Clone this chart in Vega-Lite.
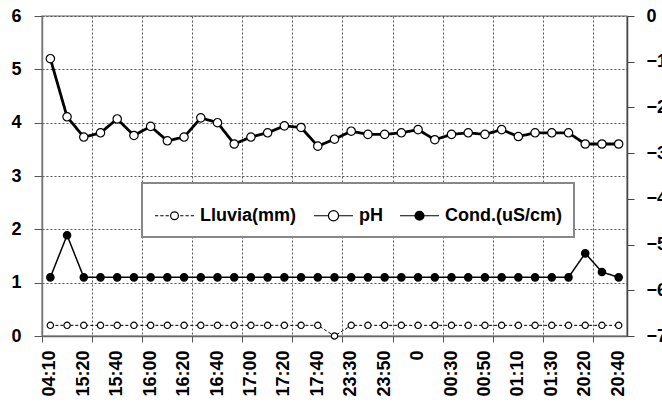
{
  "$schema": "https://vega.github.io/schema/vega-lite/v6.json",
  "width": 585,
  "height": 320,
  "autosize": {"type": "none"},
  "padding": {"left": 42, "top": 16, "right": 35, "bottom": 68},
  "background": "white",
  "config": {
    "font": "Liberation Sans",
    "view": {"stroke": "#999", "strokeWidth": 1.5},
    "axis": {"labelFont": "Liberation Sans", "labelFontSize": 18, "labelFontWeight": "bold", "labelColor": "black", "title": null},
    "legend": {"strokeWidth": 2}
  },
  "data": {"values": [
    {"t":"04:10","s":"Lluvia(mm)","v":0.2},{"t":"15:10","s":"Lluvia(mm)","v":0.2},{"t":"15:20","s":"Lluvia(mm)","v":0.2},{"t":"15:30","s":"Lluvia(mm)","v":0.2},{"t":"15:40","s":"Lluvia(mm)","v":0.2},{"t":"15:50","s":"Lluvia(mm)","v":0.2},{"t":"16:00","s":"Lluvia(mm)","v":0.2},{"t":"16:10","s":"Lluvia(mm)","v":0.2},{"t":"16:20","s":"Lluvia(mm)","v":0.2},{"t":"16:30","s":"Lluvia(mm)","v":0.2},{"t":"16:40","s":"Lluvia(mm)","v":0.2},{"t":"16:50","s":"Lluvia(mm)","v":0.2},{"t":"17:00","s":"Lluvia(mm)","v":0.2},{"t":"17:10","s":"Lluvia(mm)","v":0.2},{"t":"17:20","s":"Lluvia(mm)","v":0.2},{"t":"17:30","s":"Lluvia(mm)","v":0.2},{"t":"17:40","s":"Lluvia(mm)","v":0.2},{"t":"17:50","s":"Lluvia(mm)","v":0},{"t":"23:30","s":"Lluvia(mm)","v":0.2},{"t":"23:40","s":"Lluvia(mm)","v":0.2},{"t":"23:50","s":"Lluvia(mm)","v":0.2},{"t":"23:55","s":"Lluvia(mm)","v":0.2},{"t":"0","s":"Lluvia(mm)","v":0.2},{"t":"00:20","s":"Lluvia(mm)","v":0.2},{"t":"00:30","s":"Lluvia(mm)","v":0.2},{"t":"00:40","s":"Lluvia(mm)","v":0.2},{"t":"00:50","s":"Lluvia(mm)","v":0.2},{"t":"01:00","s":"Lluvia(mm)","v":0.2},{"t":"01:10","s":"Lluvia(mm)","v":0.2},{"t":"01:20","s":"Lluvia(mm)","v":0.2},{"t":"01:30","s":"Lluvia(mm)","v":0.2},{"t":"01:40","s":"Lluvia(mm)","v":0.2},{"t":"20:20","s":"Lluvia(mm)","v":0.2},{"t":"20:30","s":"Lluvia(mm)","v":0.2},{"t":"20:40","s":"Lluvia(mm)","v":0.2},
    {"t":"04:10","s":"pH","v":5.2},{"t":"15:10","s":"pH","v":4.11},{"t":"15:20","s":"pH","v":3.73},{"t":"15:30","s":"pH","v":3.81},{"t":"15:40","s":"pH","v":4.07},{"t":"15:50","s":"pH","v":3.76},{"t":"16:00","s":"pH","v":3.93},{"t":"16:10","s":"pH","v":3.66},{"t":"16:20","s":"pH","v":3.73},{"t":"16:30","s":"pH","v":4.09},{"t":"16:40","s":"pH","v":4.0},{"t":"16:50","s":"pH","v":3.6},{"t":"17:00","s":"pH","v":3.73},{"t":"17:10","s":"pH","v":3.81},{"t":"17:20","s":"pH","v":3.94},{"t":"17:30","s":"pH","v":3.91},{"t":"17:40","s":"pH","v":3.56},{"t":"17:50","s":"pH","v":3.69},{"t":"23:30","s":"pH","v":3.84},{"t":"23:40","s":"pH","v":3.78},{"t":"23:50","s":"pH","v":3.78},{"t":"23:55","s":"pH","v":3.81},{"t":"0","s":"pH","v":3.87},{"t":"00:20","s":"pH","v":3.68},{"t":"00:30","s":"pH","v":3.78},{"t":"00:40","s":"pH","v":3.81},{"t":"00:50","s":"pH","v":3.78},{"t":"01:00","s":"pH","v":3.87},{"t":"01:10","s":"pH","v":3.74},{"t":"01:20","s":"pH","v":3.81},{"t":"01:30","s":"pH","v":3.81},{"t":"01:40","s":"pH","v":3.81},{"t":"20:20","s":"pH","v":3.6},{"t":"20:30","s":"pH","v":3.6},{"t":"20:40","s":"pH","v":3.6},
    {"t":"04:10","s":"Cond.(uS/cm)","v":1.1},{"t":"15:10","s":"Cond.(uS/cm)","v":1.89},{"t":"15:20","s":"Cond.(uS/cm)","v":1.1},{"t":"15:30","s":"Cond.(uS/cm)","v":1.1},{"t":"15:40","s":"Cond.(uS/cm)","v":1.1},{"t":"15:50","s":"Cond.(uS/cm)","v":1.1},{"t":"16:00","s":"Cond.(uS/cm)","v":1.1},{"t":"16:10","s":"Cond.(uS/cm)","v":1.1},{"t":"16:20","s":"Cond.(uS/cm)","v":1.1},{"t":"16:30","s":"Cond.(uS/cm)","v":1.1},{"t":"16:40","s":"Cond.(uS/cm)","v":1.1},{"t":"16:50","s":"Cond.(uS/cm)","v":1.1},{"t":"17:00","s":"Cond.(uS/cm)","v":1.1},{"t":"17:10","s":"Cond.(uS/cm)","v":1.1},{"t":"17:20","s":"Cond.(uS/cm)","v":1.1},{"t":"17:30","s":"Cond.(uS/cm)","v":1.1},{"t":"17:40","s":"Cond.(uS/cm)","v":1.1},{"t":"17:50","s":"Cond.(uS/cm)","v":1.1},{"t":"23:30","s":"Cond.(uS/cm)","v":1.1},{"t":"23:40","s":"Cond.(uS/cm)","v":1.1},{"t":"23:50","s":"Cond.(uS/cm)","v":1.1},{"t":"23:55","s":"Cond.(uS/cm)","v":1.1},{"t":"0","s":"Cond.(uS/cm)","v":1.1},{"t":"00:20","s":"Cond.(uS/cm)","v":1.1},{"t":"00:30","s":"Cond.(uS/cm)","v":1.1},{"t":"00:40","s":"Cond.(uS/cm)","v":1.1},{"t":"00:50","s":"Cond.(uS/cm)","v":1.1},{"t":"01:00","s":"Cond.(uS/cm)","v":1.1},{"t":"01:10","s":"Cond.(uS/cm)","v":1.1},{"t":"01:20","s":"Cond.(uS/cm)","v":1.1},{"t":"01:30","s":"Cond.(uS/cm)","v":1.1},{"t":"01:40","s":"Cond.(uS/cm)","v":1.1},{"t":"20:20","s":"Cond.(uS/cm)","v":1.55},{"t":"20:30","s":"Cond.(uS/cm)","v":1.2},{"t":"20:40","s":"Cond.(uS/cm)","v":1.1}
  ]},
  "layer": [
    {
      "encoding": {
        "x": {
          "field": "t", "type": "ordinal",
          "scale": {"type": "band", "paddingInner": 0, "paddingOuter": 0, "domain": ["04:10","15:10","15:20","15:30","15:40","15:50","16:00","16:10","16:20","16:30","16:40","16:50","17:00","17:10","17:20","17:30","17:40","17:50","23:30","23:40","23:50","23:55","0","00:20","00:30","00:40","00:50","01:00","01:10","01:20","01:30","01:40","20:20","20:30","20:40"]},
          "axis": {"values": ["04:10","15:20","15:40","16:00","16:20","16:40","17:00","17:20","17:40","23:30","23:50","0","00:30","00:50","01:10","01:30","20:20","20:40"], "ticks": false, "grid": false, "labelAngle": -90, "labelPadding": 14, "labelFont": "Liberation Sans", "labelFontSize": 18, "labelFontWeight": "bold", "domainColor": "#666", "domainWidth": 1.5, "title": null}
        },
        "y": {
          "field": "v", "type": "quantitative",
          "scale": {"domain": [0, 6], "nice": false},
          "axis": {"values": [0,1,2,3,4,5,6], "tickSize": 8, "tickColor": "#555", "labelPadding": 13, "labelFont": "Liberation Sans", "labelFontSize": 18, "labelFontWeight": "bold", "grid": true, "gridDash": [2,2], "gridColor": "#555", "gridWidth": 1, "domainColor": "#777", "domainWidth": 1.5, "title": null}
        }
      },
      "layer": [
        {
          "mark": {"type": "line", "color": "black"},
          "encoding": {
            "detail": {"field": "s", "type": "nominal"},
            "strokeDash": {"condition": {"test": "datum.s === 'Lluvia(mm)'", "value": [3,2]}, "value": [1,0]},
            "strokeWidth": {"condition": [{"test": "datum.s === 'pH'", "value": 2.8}, {"test": "datum.s === 'Lluvia(mm)'", "value": 1}], "value": 1.5}
          }
        },
        {
          "mark": {"type": "point", "filled": true, "opacity": 1, "stroke": "black", "strokeWidth": 1.2},
          "encoding": {
            "size": {"condition": [{"test": "datum.s === 'pH'", "value": 70}, {"test": "datum.s === 'Lluvia(mm)'", "value": 40}], "value": 55},
            "fill": {"condition": {"test": "datum.s === 'Cond.(uS/cm)'", "value": "black"}, "value": "white"}
          }
        }
      ]
    },
    {
      "transform": [{"filter": "false"}],
      "mark": {"type": "point", "filled": false, "color": "black", "opacity": 1},
      "encoding": {
        "shape": {
          "field": "s", "type": "nominal",
          "scale": {"domain": ["Lluvia(mm)","pH","Cond.(uS/cm)"], "range": [
            "M-1,0L-0.83,0M-0.73,0L-0.56,0M-0.46,0L-0.29,0M0.29,0L0.46,0M0.56,0L0.73,0M0.83,0L1,0M0.2,0A0.2,0.2,0,1,1,-0.2,0A0.2,0.2,0,1,1,0.2,0Z",
            "M-1,0L-0.26,0M0.26,0L1,0M0.26,0A0.26,0.26,0,1,1,-0.26,0A0.26,0.26,0,1,1,0.26,0Z",
            "M-1,0L1,0M0.23,0A0.23,0.23,0,1,1,-0.23,0A0.23,0.23,0,1,1,0.23,0ZM0.18,0A0.18,0.18,0,1,1,-0.18,0A0.18,0.18,0,1,1,0.18,0ZM0.13,0A0.13,0.13,0,1,1,-0.13,0A0.13,0.13,0,1,1,0.13,0ZM0.08,0A0.08,0.08,0,1,1,-0.08,0A0.08,0.08,0,1,1,0.08,0ZM0.04,0A0.04,0.04,0,1,1,-0.04,0A0.04,0.04,0,1,1,0.04,0Z"
          ]},
          "legend": {
            "orient": "none", "legendX": 100, "legendY": 167, "direction": "horizontal", "title": null,
            "padding": 12, "symbolSize": 1521, "labelOffset": 5, "columnPadding": 14,
            "labelFont": "Liberation Sans", "labelFontSize": 18, "labelFontWeight": "bold", "labelColor": "black", "labelLimit": 400,
            "symbolStrokeColor": "black", "symbolStrokeWidth": 1.2, "strokeColor": "#888", "fillColor": "white",
            "encode": {
              "symbols": {"update": {
                "strokeWidth": {"signal": "datum.value === 'pH' ? 2.6 : datum.value === 'Lluvia(mm)' ? 1 : 1.6"},
                "size": {"value": 1521}
              }},
              "legend": {"update": {"strokeWidth": {"value": 2}}}
            }
          }
        }
      }
    },
    {
      "mark": {"type": "point", "opacity": 0},
      "encoding": {
        "x": {
          "field": "t", "type": "ordinal",
          "axis": {"values": ["04:10","15:30","16:00","16:30","17:00","17:30","23:30","23:55","00:30","01:00","01:30","20:30"], "bandPosition": 0, "grid": true, "gridDash": [2,2], "gridColor": "#555", "gridWidth": 1, "labels": false, "ticks": true, "tickSize": 6, "tickColor": "#555", "domain": false, "orient": "bottom", "title": null}
        },
        "y": {
          "field": "v", "type": "quantitative",
          "scale": {"domain": [-7, 0], "nice": false},
          "axis": {"orient": "right", "values": [-7,-6,-5,-4,-3,-2,-1,0], "tickSize": 7, "tickColor": "#444", "labelPadding": 12, "labelFont": "Liberation Sans", "labelFontSize": 18, "labelFontWeight": "bold", "grid": false, "domainColor": "#444", "domainWidth": 1.5, "title": null,
            "encode": {"ticks": {"update": {"x": {"value": -7}}}}}
        }
      }
    }
  ],
  "resolve": {"scale": {"y": "independent"}, "axis": {"x": "independent", "y": "independent"}}
}
